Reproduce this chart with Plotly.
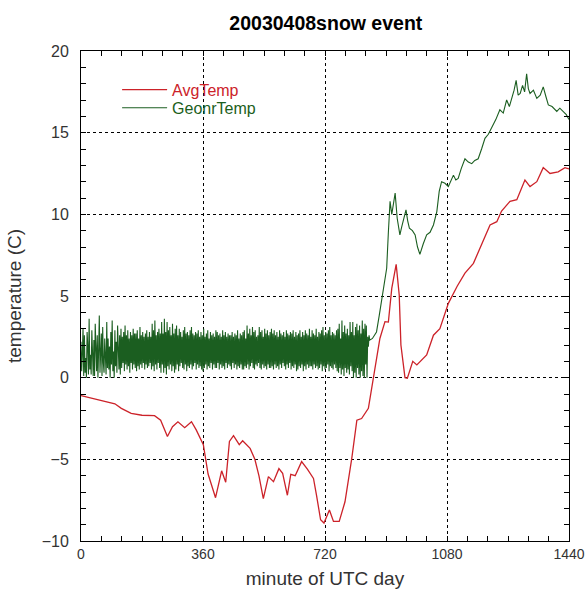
import plotly.graph_objects as go

# AvgTemp (red)
avg_x = [0, 30, 70, 100, 119, 148, 180, 217, 235, 255, 270, 286, 306, 326, 340, 352, 361, 375, 397, 415,
         427, 438, 450, 467, 477, 499, 513, 525, 538, 553, 568, 584, 595, 609, 619, 632, 651, 668, 686, 695,
         707, 717, 733, 745, 762, 779, 799, 814, 828, 848, 863, 882, 897, 907, 917, 930, 939, 944, 956, 963,
         979, 991, 1020, 1040, 1059, 1084, 1110, 1133, 1158, 1182, 1207, 1227, 1241, 1266, 1286, 1310, 1325,
         1345, 1364, 1384, 1408, 1428, 1440]
avg_y = [-1.1, -1.25, -1.43, -1.6, -1.88, -2.18, -2.3, -2.33, -2.6, -3.6, -3.0, -2.7, -3.06, -2.7, -3.2, -3.67,
         -4.1, -5.9, -7.35, -5.7, -6.4, -3.9, -3.55, -4.1, -3.86, -4.33, -5.0, -6.0, -7.4, -6.06, -6.37, -5.57,
         -5.86, -7.2, -5.92, -6.0, -5.14, -5.6, -6.17, -7.2, -8.7, -8.9, -8.1, -8.8, -8.8, -7.6, -4.94, -2.6,
         -2.5, -1.88, 0.0, 2.4, 3.43, 3.4, 5.47, 6.94, 5.06, 2.0, 0.0, -0.04, 1.0, 0.78, 1.39, 2.6, 3.0, 4.55,
         5.6, 6.4, 7.0, 8.2, 9.35, 9.55, 10.2, 10.8, 10.9, 12.1, 11.7, 12.0, 12.86, 12.5, 12.6, 12.86, 12.78]

# GeonrTemp (green): noisy part sampled every 2 minutes from minute 0
geo_noisy = [
    2.2, 0.4, 1.5, 3.0, 0.1, 2.6, 0.3, 1.2, 0.0, 2.8, 1.9, 0.2, 3.6, 0.5, 1.4, 0.2, 2.9, 0.8, 0.1, 2.3,
    0.1, 3.3, 1.0, 0.4, 2.6, 0.0, 1.7, 3.8, 0.3, 1.2, 2.7, 0.1, 3.1, 0.9, 0.3, 2.4, 1.2, 0.2, 3.4, 0.6,
    2.4, 0.5, 1.9, 0.0, 2.8, 0.8, 3.5, 0.4, 1.6, 0.0, 2.9, 0.7, 2.2, 0.3, 3.2, 1.0, 0.5, 2.6, 0.2, 3.0,
    0.6, 2.5, 0.9, 2.8, 0.4, 3.2, 0.8, 2.6, 0.5, 2.9, 0.7, 2.4, 0.3, 2.8, 0.9, 2.6, 0.5, 3.0, 0.8, 2.7,
    0.6, 2.7, 0.4, 2.9, 0.7, 2.4, 0.5, 3.1, 0.8, 2.6, 0.6, 2.8, 0.9, 2.5, 0.5, 2.7, 0.8, 2.9, 0.6, 2.5,
    0.7, 2.8, 0.9, 2.5, 0.5, 3.3, 0.7, 2.9, 0.4, 3.5, 0.8, 2.6, 0.5, 2.8, 0.9, 3.0, 0.6, 2.7, 0.3, 3.4,
    0.8, 2.7, 0.3, 3.6, 0.6, 2.8, 0.2, 3.4, 0.7, 2.9, 0.5, 3.1, 0.8, 2.6, 0.4, 3.3, 0.7, 2.7, 0.3, 3.0,
    0.5, 3.2, 0.8, 2.6, 0.4, 3.0, 0.7, 2.8, 0.9, 2.5, 0.6, 2.9, 0.5, 3.1, 0.8, 2.7, 0.4, 2.8, 0.7, 2.6,
    0.6, 2.9, 0.8, 3.1, 0.5, 2.7, 0.7, 2.6, 0.9, 2.8, 0.5, 2.7, 0.8, 2.9, 0.6, 2.5, 0.7, 2.8, 0.5, 2.6,
    0.4, 3.0, 0.6, 2.5, 0.8, 2.7, 0.5, 2.9, 0.7, 2.4, 0.6, 2.8, 0.9, 2.6, 0.5, 2.7, 0.8, 2.5, 0.6, 2.9,
    0.6, 2.8, 0.9, 2.6, 0.5, 2.7, 0.8, 2.5, 0.6, 2.9, 0.7, 2.6, 0.5, 2.8, 0.9, 2.5, 0.6, 2.7, 0.8, 2.6,
    0.7, 2.6, 0.5, 2.8, 0.9, 2.5, 0.6, 2.7, 0.8, 2.6, 0.5, 2.9, 0.7, 2.4, 0.6, 2.7, 0.8, 2.6, 0.5, 2.8,
    0.5, 2.9, 0.7, 2.4, 0.6, 3.2, 0.8, 2.7, 0.5, 3.0, 0.7, 2.6, 0.9, 3.1, 0.6, 2.8, 0.5, 2.9, 0.8, 2.5,
    0.7, 2.6, 0.9, 3.1, 0.6, 2.8, 0.5, 2.9, 0.8, 2.5, 0.6, 3.0, 0.7, 2.7, 0.5, 2.9, 0.8, 2.6, 0.6, 2.8,
    0.6, 3.0, 0.7, 2.7, 0.5, 2.9, 0.8, 2.6, 0.6, 2.8, 0.7, 2.5, 0.5, 2.9, 0.8, 2.7, 0.6, 2.6, 0.9, 2.8,
    0.7, 2.5, 0.5, 2.9, 0.8, 2.7, 0.6, 2.6, 0.9, 2.8, 0.5, 2.7, 0.7, 2.9, 0.6, 2.5, 0.8, 2.8, 0.4, 2.6,
    0.5, 2.7, 0.7, 2.9, 0.6, 2.5, 0.8, 2.8, 0.4, 2.6, 0.7, 2.9, 0.5, 2.7, 0.8, 2.6, 0.6, 3.0, 0.7, 2.5,
    0.7, 2.9, 0.5, 2.7, 0.8, 2.6, 0.6, 3.0, 0.7, 2.5, 0.5, 2.8, 0.6, 2.7, 0.8, 2.9, 0.4, 3.1, 0.7, 2.6,
    0.5, 2.8, 0.6, 2.7, 0.8, 2.9, 0.4, 3.1, 0.7, 2.6, 0.6, 2.8, 0.5, 2.7, 0.8, 2.6, 0.6, 2.9, 0.4, 3.0,
    0.3, 3.3, 0.6, 2.4, 0.2, 3.5, 0.5, 2.8, 0.1, 3.2, 0.6, 2.7, 0.3, 3.0, 0.5, 2.6, 0.2, 3.4, 0.7, 2.8,
    0.4, 3.4, 0.0, 2.6, 0.3, 3.1, 0.0, 3.3, 0.6, 2.9, 0.2, 3.2, 0.0, 2.7, 0.4, 3.5, 0.1, 3.0, 0.0, 3.3,
    0.8, 3.2, 0.0, 2.5, 1.9, 2.6, 2.3,
]
geo_noisy_x = list(range(0, 2 * len(geo_noisy), 2))

geo_rise_x = [860, 872, 880, 887, 895, 902, 907, 912, 917, 922, 927, 933, 941, 946, 951, 959, 964, 969, 978,
              986, 993, 1000, 1010, 1020, 1030, 1040, 1050, 1057, 1064, 1074, 1084, 1090, 1099, 1106, 1113,
              1122, 1133, 1143, 1153, 1162, 1172, 1182, 1192, 1202, 1212, 1224, 1236, 1246, 1256, 1264, 1271,
              1278, 1284, 1290, 1296, 1303, 1309, 1315, 1320, 1325, 1335, 1345, 1355, 1364, 1372, 1379, 1390,
              1404, 1413, 1423, 1432, 1440]
geo_rise_y = [2.4, 2.8, 3.8, 4.65, 5.8, 6.7, 8.9, 10.8, 10.0, 10.6, 11.3, 9.76, 8.74, 9.2, 9.55, 10.27, 9.6,
              9.15, 9.0, 8.74, 8.0, 7.55, 8.2, 8.74, 8.9, 9.35, 10.17, 11.4, 12.0, 11.9, 11.7, 12.0, 12.4, 12.1,
              12.2, 12.8, 13.4, 13.2, 13.1, 13.3, 13.4, 14.0, 14.65, 14.9, 15.27, 15.8, 16.4, 16.2, 17.0, 16.6,
              17.1, 17.6, 18.2, 17.3, 17.4, 17.9, 17.5, 18.6, 17.7, 17.4, 17.6, 17.1, 17.3, 17.8, 17.2, 16.7,
              16.6, 16.3, 16.5, 16.3, 16.1, 15.8]

geo_x = geo_noisy_x + geo_rise_x
geo_y = geo_noisy + geo_rise_y

x_ticks = [0, 360, 720, 1080, 1440]
y_ticks = [-10, -5, 0, 5, 10, 15, 20]

RED = "#cc2229"
GREEN = "#1b5e20"
FONT = "Liberation Sans, Arial, sans-serif"

fig = go.Figure()
fig.add_trace(go.Scatter(x=avg_x, y=avg_y, mode="lines", name="AvgTemp",
                         line=dict(color=RED, width=1.3), legend="legend2"))
fig.add_trace(go.Scatter(x=geo_x, y=geo_y, mode="lines", name="GeonrTemp",
                         line=dict(color=GREEN, width=1.1), legend="legend3"))

axis_common = dict(showline=True, linecolor="black", linewidth=1, mirror="allticks",
                   ticks="inside", ticklen=5, tickcolor="black", automargin=False,
                   showgrid=True, gridcolor="black", griddash="dot", gridwidth=1,
                   zeroline=False)

fig.update_xaxes(range=[0, 1440], tickvals=x_ticks,
                 tickfont=dict(family=FONT, size=14, color="#333"),
                 minor=dict(dtick=60, ticks="inside", ticklen=5, tickcolor="black", showgrid=False),
                 title=dict(text="minute of UTC day", font=dict(family=FONT, size=19, color="#333"), standoff=10),
                 **axis_common)
fig.update_yaxes(range=[-10, 20], tickvals=y_ticks, ticklabelstandoff=8,
                 tickfont=dict(family=FONT, size=16, color="#333"),
                 minor=dict(dtick=1, ticks="inside", ticklen=5, tickcolor="black", showgrid=False),
                 title=dict(text="temperature (C)", font=dict(family=FONT, size=19, color="#333"), standoff=15),
                 **axis_common)

fig.update_layout(
    width=585, height=597,
    margin=dict(l=81, r=16, t=51, b=56),
    paper_bgcolor="white", plot_bgcolor="white",
    showlegend=True,
    title=dict(text="<b>20030408snow event</b>", x=0.557, xanchor="center", y=0.9615, yanchor="middle",
               font=dict(family=FONT, size=19.5, color="black")),
    legend2=dict(x=0.074, y=0.921, xanchor="left", yanchor="middle", bgcolor="rgba(0,0,0,0)",
                 font=dict(family=FONT, size=16, color=RED), itemwidth=45),
    legend3=dict(x=0.074, y=0.884, xanchor="left", yanchor="middle", bgcolor="rgba(0,0,0,0)",
                 font=dict(family=FONT, size=16, color=GREEN), itemwidth=45),
)

fig.write_html(
    "out.html",
    config={"displayModeBar": False},
    post_script="document.body.style.margin='0';document.body.style.overflow='hidden';"
                "document.documentElement.style.overflow='hidden';",
)
